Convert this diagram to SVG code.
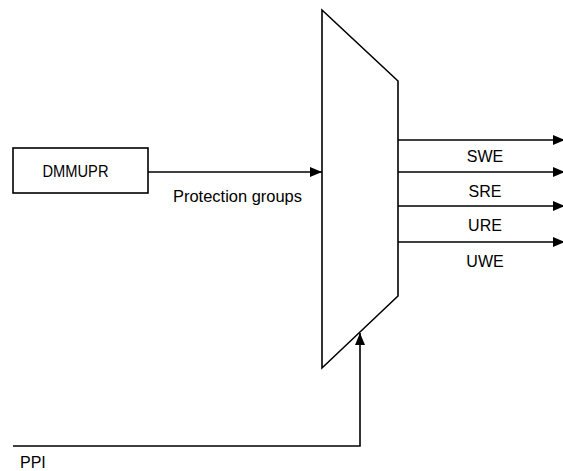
<svg xmlns="http://www.w3.org/2000/svg" width="563" height="471" viewBox="0 0 563 471">
<style>
.s{fill:none;stroke:#000;stroke-width:1.6}
.t{font-family:"Liberation Sans",Arial,sans-serif;font-size:16px;fill:#000}
</style>
<defs>
<marker id="ah" markerWidth="12" markerHeight="10" refX="12" refY="5" orient="auto" markerUnits="userSpaceOnUse">
<path d="M0,0 L12,5 L0,10 Z" fill="#000"/>
</marker>
</defs>
<rect width="563" height="471" fill="#fff"/>
<g id="dmmupr">
<rect class="s" x="13" y="148" width="135" height="45"/>
<text class="t" x="75.5" y="177" text-anchor="middle" textLength="66" lengthAdjust="spacingAndGlyphs">DMMUPR</text>
</g>
<g id="mux">
<path class="s" d="M322,10 L398,81 L398,296 L322,368 Z"/>
</g>
<g id="connectors">
<line class="s" x1="148" y1="172" x2="322" y2="172" marker-end="url(#ah)"/>
<line class="s" x1="398" y1="140" x2="565" y2="140" marker-end="url(#ah)"/>
<line class="s" x1="398" y1="172" x2="565" y2="172" marker-end="url(#ah)"/>
<line class="s" x1="398" y1="206" x2="565" y2="206" marker-end="url(#ah)"/>
<line class="s" x1="398" y1="242" x2="565" y2="242" marker-end="url(#ah)"/>
<path class="s" d="M13,446 L360,446 L360,333" marker-end="url(#ah)"/>
</g>
<g id="labels">
<text class="t" x="173" y="202" textLength="129" lengthAdjust="spacingAndGlyphs">Protection groups</text>
<text class="t" x="485" y="162" text-anchor="middle">SWE</text>
<text class="t" x="485" y="196.5" text-anchor="middle">SRE</text>
<text class="t" x="485" y="231" text-anchor="middle">URE</text>
<text class="t" x="485" y="266.5" text-anchor="middle">UWE</text>
<text class="t" x="20" y="468">PPI</text>
</g>
</svg>
